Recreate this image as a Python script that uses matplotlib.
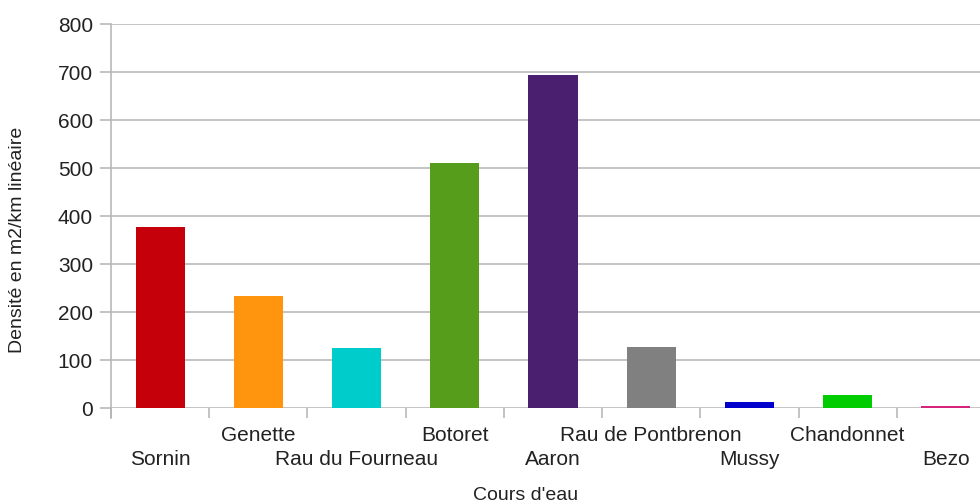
"""Bar chart: densité par cours d'eau (m2/km linéaire)."""
import matplotlib
matplotlib.use("Agg")
import matplotlib.pyplot as plt
import numpy as np

plt.rcParams["font.family"] = ["Liberation Sans", "DejaVu Sans"]

COURS = ["Sornin", "Genette", "Rau du Fourneau", "Botoret", "Aaron",
         "Rau de Pontbrenon", "Mussy", "Chandonnet", "Bezo"]
DENSITE = [378, 234, 125, 511, 694, 127, 13, 27, 4]
COULEURS = ["#c5000b", "#ff950e", "#00cccc", "#579d1c", "#4b1f6f",
            "#808080", "#0000cc", "#00cc00", "#d4237a"]
Y_TICKS = [0, 100, 200, 300, 400, 500, 600, 700, 800]

W, H = 980, 504
fig = plt.figure(figsize=(W / 100, H / 100), dpi=100)
# plot area runs a little past the right edge, like the source image
ax = fig.add_axes([111 / W, 96 / H, (995 - 111) / W, (408 - 24) / H])

x = np.arange(len(COURS))
ax.bar(x, DENSITE, width=0.5, color=COULEURS, zorder=3)

grid_c = "#b3b3b3"
ax.set_xlim(-0.5, len(COURS) - 0.5)
ax.set_ylim(0, 800)
ax.set_yticks(Y_TICKS)
ax.yaxis.grid(True, color=grid_c, lw=1.1, zorder=0)
ax.set_xticks(np.arange(-0.5, len(COURS), 1.0))
ax.set_xticklabels([])
ax.tick_params(axis="x", length=7, width=1.1, color=grid_c, direction="out")
ax.tick_params(axis="y", length=8, width=1.1, color=grid_c, direction="out",
               labelsize=15, pad=5, labelcolor="#222222")
for s in ["top", "right", "bottom"]:
    ax.spines[s].set_visible(False)
ax.spines["left"].set_color(grid_c)
ax.spines["left"].set_linewidth(1.1)
ax.spines["left"].set_bounds(-10 / 0.48, 800)
ax.spines["left"].set_clip_on(False)

# staggered category labels
for i, name in enumerate(COURS):
    off = -24 if i % 2 else -41
    ax.annotate(name, xy=(i, 0), xycoords=("data", "axes fraction"),
                xytext=(0, off), textcoords="offset points",
                ha="center", va="baseline", fontsize=15, color="#222222",
                annotation_clip=False)

fig.text(526 / W, 0.5 / H, "Cours d'eau", ha="center", va="bottom",
         fontsize=14, color="#222222")
fig.text(18 / W, 1 - 240 / H, "Densité en m2/km linéaire", rotation=90,
         ha="center", va="center", fontsize=14, color="#222222")

fig.savefig("out.png", dpi=100)
